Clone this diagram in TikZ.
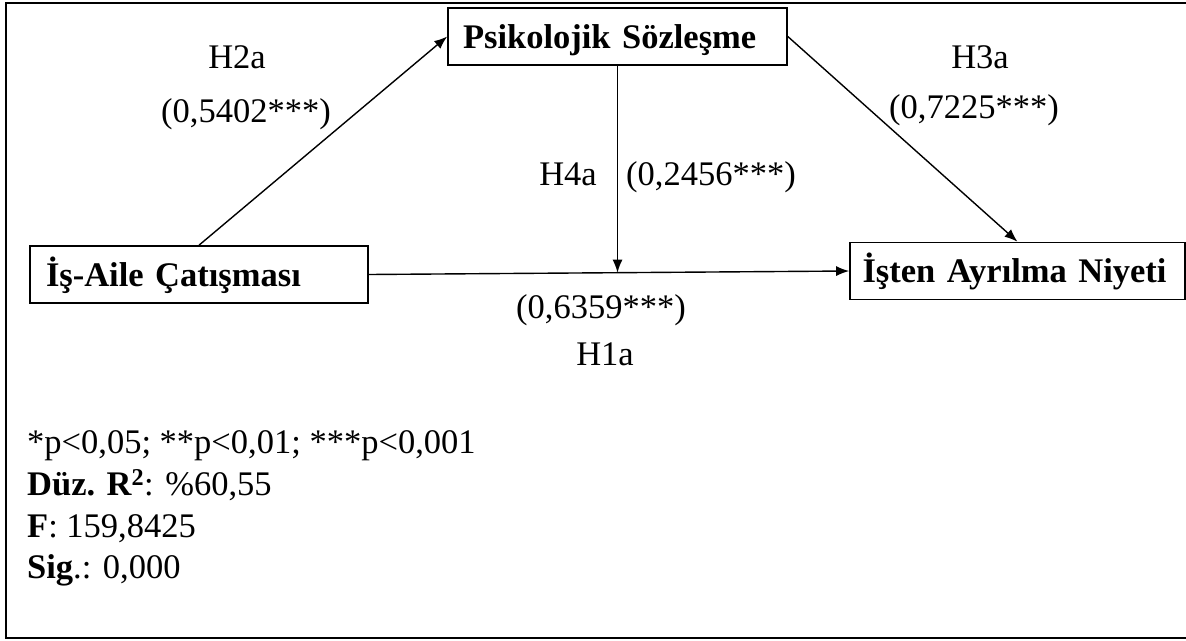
\documentclass[tikz,border=0pt]{standalone}
\usepackage{fontspec}
\setmainfont{Liberation Serif}
\usetikzlibrary{arrows.meta,calc}
\begin{document}
\begin{tikzpicture}[x=1pt,y=-1pt,
  lbl/.style={font=\fontsize{34.5}{40}\selectfont, inner sep=0pt, anchor=base},
  note/.style={font=\fontsize{34.5}{40}\selectfont, inner sep=0pt, anchor=base west},
  box/.style={draw, line width=1.6pt, font=\bfseries\fontsize{34.5}{40}\selectfont,
    minimum height=57pt, inner ysep=0pt, align=left, text height=28pt, text depth=5pt},
  conn/.style={line width=1.4pt, -{Latex[length=13pt,width=10pt]}},
  frame/.style={line width=2.5pt}]
\useasboundingbox (0,0) rectangle (1186,640);
\draw[frame] (1195,3) -- (6,3) -- (6,638) -- (1195,638);

\node[box, text width=309pt, inner xsep=15pt] (ps) at (617.5,36.5) {Psikolojik Sözleşme};
\node[box, text width=306pt, inner xsep=16pt] (iac) at (199,274.5) {İş-Aile Çatışması};
\node[box, text width=310pt, inner xsep=12.5pt] (ian) at (1017.5,271) {İşten Ayrılma Niyeti};

\draw[conn] (iac.north) -- (ps.west);
\draw[conn] (ps.east) -- (ian.north);
\draw[conn] (iac.east) -- (ian.west);
\coordinate (j) at ($(iac.east)!0.5166!(ian.west)$);
\draw[conn] (ps.south) -- (ps.south |- j);

\node[lbl] (h2a) at (237,68) {H2a};
\node[lbl] (c2a) at (246,122) {(0,5402***)};
\node[lbl] (h3a) at (980,68) {H3a};
\node[lbl] (c3a) at (974,118) {(0,7225***)};
\node[lbl] (h4a) at (568,185) {H4a};
\node[lbl] (c4a) at (711,185) {(0,2456***)};
\node[lbl] (c1a) at (601,318) {(0,6359***)};
\node[lbl] (h1a) at (605,365) {H1a};

\node[note] (n1) at (27,453) {*p<0,05; **p<0,01; ***p<0,001};
\node[note] (n2) at (27,495) {\textbf{Düz. R\textsuperscript{2}}: \%60,55};
\node[note] (n3) at (27,537) {\textbf{F}: 159,8425};
\node[note] (n4) at (27,578) {\textbf{Sig}.: 0,000};
\end{tikzpicture}
\end{document}
